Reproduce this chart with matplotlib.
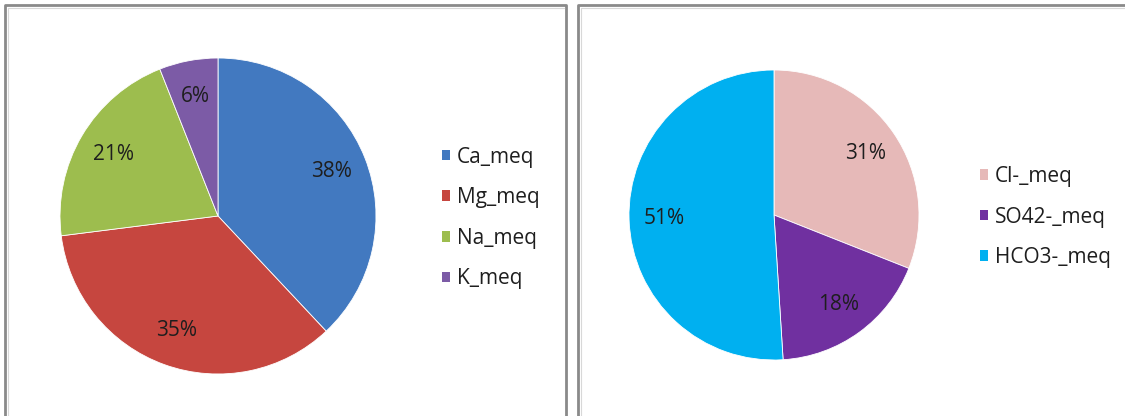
import matplotlib
matplotlib.use("Agg")
import matplotlib.pyplot as plt
from matplotlib.patches import Patch
from matplotlib.lines import Line2D

W, H = 1125, 416
DPI = 100

# Cation composition (milli-equivalents)
cation_labels = ["Ca_meq", "Mg_meq", "Na_meq", "K_meq"]
cation_values = [38, 35, 21, 6]
cation_colors = ["#4279c0", "#c6463f", "#9dbd4e", "#7c5ba6"]

# Anion composition (milli-equivalents)
anion_labels = ["Cl-_meq", "SO42-_meq", "HCO3-_meq"]
anion_values = [31, 18, 51]
anion_colors = ["#e6b9b8", "#7030a0", "#00b0f0"]

plt.rcParams["font.family"] = ["Open Sans", "DejaVu Sans"]
TXT = "#1e1e1e"
FS = 15

fig = plt.figure(figsize=(W / DPI, H / DPI), dpi=DPI)
fig.patch.set_facecolor("white")

# Background axes in pixel units for the panel frames
bg = fig.add_axes([0, 0, 1, 1])
bg.set_xlim(0, W)
bg.set_ylim(H, 0)
bg.axis("off")
frame = dict(color="#8a8a8a", lw=2.0, solid_capstyle="butt")
inner = dict(color="#d8d8d8", lw=0.8)
# left panel
bg.add_line(Line2D([5, 5, 566, 566], [H + 5, 5, 5, H + 5], **frame))
bg.add_line(Line2D([7.5, 7.5, 563.5], [H + 5, 7.5, 7.5], **inner))
# right panel
bg.add_line(Line2D([578, 578, W + 5], [H + 5, 5, 5], **frame))
bg.add_line(Line2D([580.5, 580.5, W + 5], [H + 5, 7.5, 7.5], **inner))


def pie_axes(cx, cy, r):
    return fig.add_axes([(cx - r) / W, (H - cy - r) / H, 2 * r / W, 2 * r / H])


def draw_pie(ax, values, colors, pctdist):
    wedges, _, autotexts = ax.pie(
        values, colors=colors, startangle=90, counterclock=False, radius=1,
        autopct="%1.0f%%", pctdistance=pctdist,
        wedgeprops=dict(edgecolor="white", linewidth=0.6),
        textprops=dict(fontsize=FS, color=TXT),
    )
    ax.set_xlim(-1, 1)
    ax.set_ylim(-1, 1)
    ax.set_aspect("equal")
    ax.axis("off")
    return wedges


def add_legend(handles_labels, x, y):
    handles = [Patch(facecolor=c, edgecolor="none") for _, c in handles_labels]
    labels = [l for l, _ in handles_labels]
    fig.legend(handles, labels, loc="center left",
               bbox_to_anchor=(x / W, 1 - y / H), frameon=False,
               fontsize=FS, labelcolor=TXT, handlelength=0.4, handleheight=0.4,
               handletextpad=0.33, labelspacing=0.94, borderpad=0, borderaxespad=0)


ax1 = pie_axes(218, 216, 158)
draw_pie(ax1, cation_values, cation_colors, 0.77)
add_legend(list(zip(cation_labels, cation_colors)), 442, 218)

ax2 = pie_axes(774, 215, 145)
draw_pie(ax2, anion_values, anion_colors, 0.76)
add_legend(list(zip(anion_labels, anion_colors)), 980, 217)

fig.savefig("out.png", dpi=DPI)
